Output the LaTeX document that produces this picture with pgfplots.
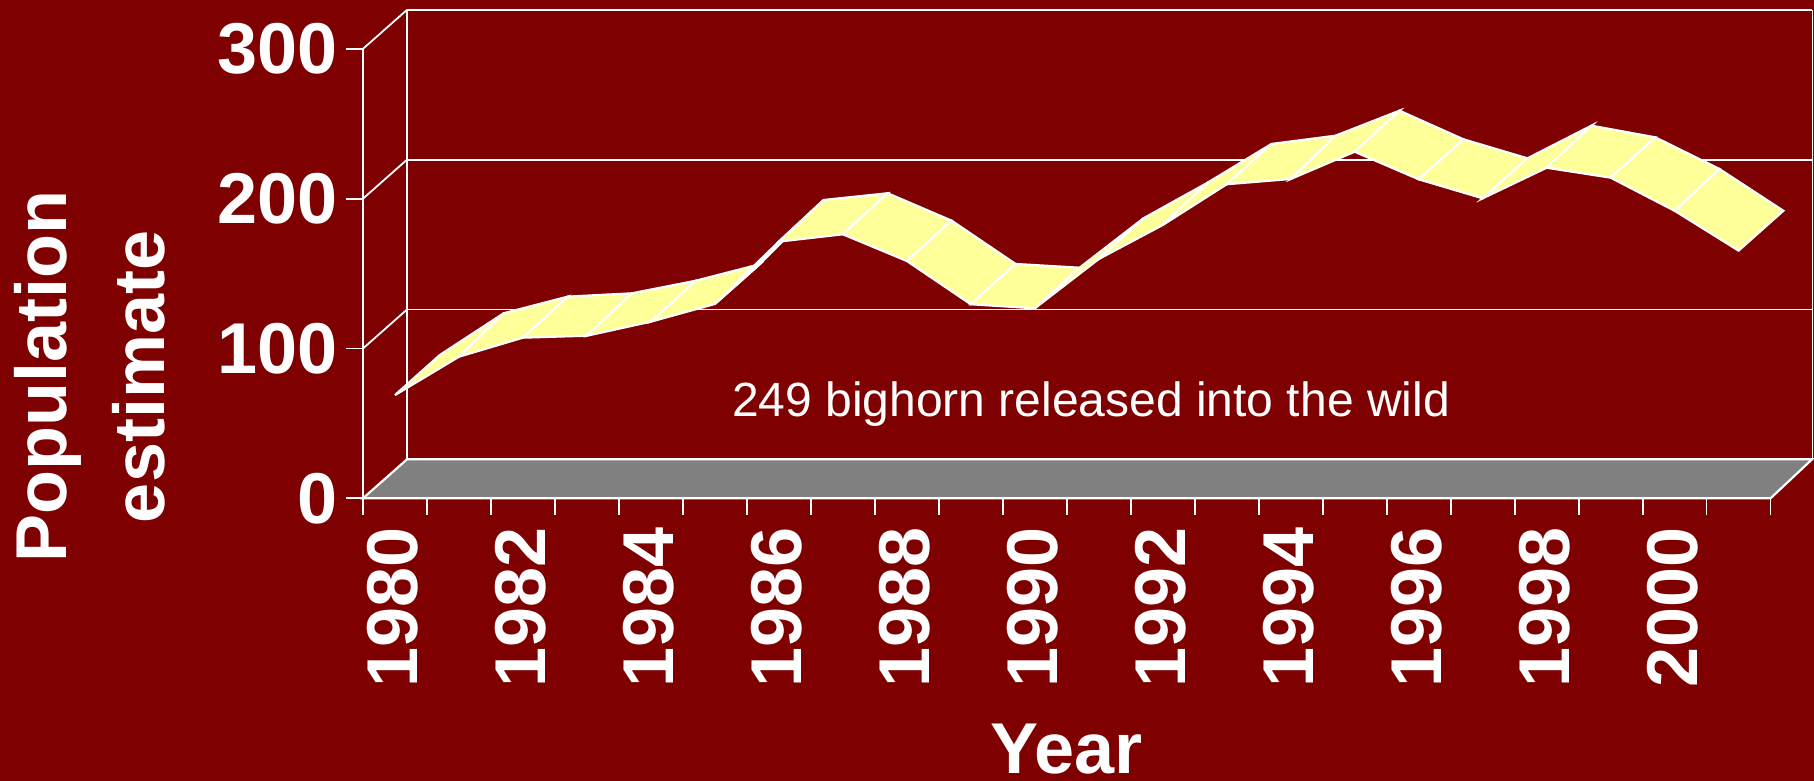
\documentclass[border=0pt]{standalone}
\usepackage{fontspec}
\setmainfont{Liberation Sans}
\usepackage{pgfplots}
\usepackage{pgfplotstable}
\pgfplotsset{compat=1.18}
\definecolor{bg}{HTML}{7F0000}
\definecolor{floorc}{HTML}{808080}
\definecolor{rib}{HTML}{FFFF99}
% front / back edge of the ribbon, in axis units
\pgfplotstableread{
year front back
1980 68.9 95.6
1981 94.5 123.5
1982 107.2 134.6
1983 108.5 136.8
1984 117.9 145.2
1985 129.7 156.2
1986 171.3 199.1
1987 176.2 203.6
1988 158.4 185.3
1989 129.5 156.4
1990 126.8 153.9
1991 159.7 186.9
1992 182.4 210.6
1993 209.6 236.5
1994 213.1 242.0
1995 231.3 258.7
1996 212.9 239.6
1997 200.2 226.9
1998 220.6 248.7
1999 214.0 240.9
2000 191.9 219.8
2001 165.3 191.9
}\ribbon
\begin{document}
\begin{tikzpicture}
\fill[bg] (0,0) rectangle (907pt,390.5pt);
\begin{axis}[
  at={(181.5pt,141.35pt)}, anchor=south west,
  scale only axis, width=724.5pt, height=244.15pt,
  xmin=1979.5, xmax=2002.148, ymin=0, ymax=325.9,
  clip=false,
  axis line style={draw=none},
  tick align=outside, tick pos=left,
  major tick length=8.5pt,
  tick style={white, line width=0.9pt},
  xtick={1979.5,1980.5,...,2001.5},
  xticklabels={},
  extra x ticks={1980,1982,...,2000},
  extra x tick labels={1980,1982,1984,1986,1988,1990,1992,1994,1996,1998,2000},
  extra x tick style={major tick length=0pt, tick style={draw=none},
    xticklabel style={rotate=90, anchor=east, inner sep=0pt, xshift=-14.5pt, yshift=1pt}},
  ytick={0,100,200,300},
  yticklabel style={inner sep=0pt, xshift=-4pt},
  ticklabel style={font=\fontsize{36}{36}\selectfont\bfseries, text=white},
  /pgf/number format/assume math mode=true,
  /pgf/number format/1000 sep={},
  xlabel={Year},
  xlabel style={font=\fontsize{36}{36}\selectfont\bfseries, text=white, inner sep=0pt,
    at={(axis cs:1990.5,-184)}, anchor=base},
  ylabel={Population\\estimate},
  ylabel style={font=\fontsize{36}{49}\selectfont\bfseries, text=white, align=center, inner sep=0pt,
    at={(axis cs:1975.225,81)}, anchor=center},
  every axis plot/.append style={line join=miter},
]
% floor
\addplot[fill=floorc, draw=white, line width=1.1pt] coordinates {(1979.5,0) (2001.5,0) (2002.148,26) (1980.188,26)} --cycle;
% back wall gridlines
\addplot[white, line width=0.9pt] coordinates {(1980.188,126) (2002.148,126)};
\addplot[white, line width=0.9pt] coordinates {(1980.188,226) (2002.148,226)};
\addplot[white, line width=0.9pt] coordinates {(1980.188,326) (2002.148,326)};
\addplot[white, line width=1pt] coordinates {(1980.188,26) (1980.188,326)};
\addplot[white, line width=0.5pt] coordinates {(2002.148,26) (2002.148,326)};
% left wall
\addplot[white, line width=0.9pt] coordinates {(1979.5,0) (1979.5,300)};
\addplot[white, line width=0.9pt] coordinates {(1979.5,100) (1980.188,126)};
\addplot[white, line width=0.9pt] coordinates {(1979.5,200) (1980.188,226)};
\addplot[white, line width=0.9pt] coordinates {(1979.5,300) (1980.188,326)};
% ribbon
\pgfplotsinvokeforeach{0,...,20}{
  \pgfmathtruncatemacro\nxt{#1+1}
  \pgfplotstablegetelem{#1}{year}\of\ribbon \edef\xa{\pgfplotsretval}
  \pgfplotstablegetelem{#1}{front}\of\ribbon \edef\fa{\pgfplotsretval}
  \pgfplotstablegetelem{#1}{back}\of\ribbon \edef\ba{\pgfplotsretval}
  \pgfplotstablegetelem{\nxt}{front}\of\ribbon \edef\fb{\pgfplotsretval}
  \pgfplotstablegetelem{\nxt}{back}\of\ribbon \edef\bb{\pgfplotsretval}
  \pgfmathsetmacro\xb{\xa+1}
  \pgfmathsetmacro\xc{\xa+0.7}
  \pgfmathsetmacro\xd{\xa+1.7}
  \addplot[fill=rib, draw=white, line width=1.1pt] coordinates {(\xa,\fa) (\xb,\fb) (\xd,\bb) (\xc,\ba)} --cycle;
}
\node[text=white, font=\fontsize{24}{24}\selectfont, inner sep=0pt, anchor=base] at (axis cs:1990.878,54.5) {249 bighorn released into the wild};
\end{axis}
\pgfresetboundingbox
\path[use as bounding box] (0,0) rectangle (907pt,390.5pt);
\end{tikzpicture}
\end{document}
